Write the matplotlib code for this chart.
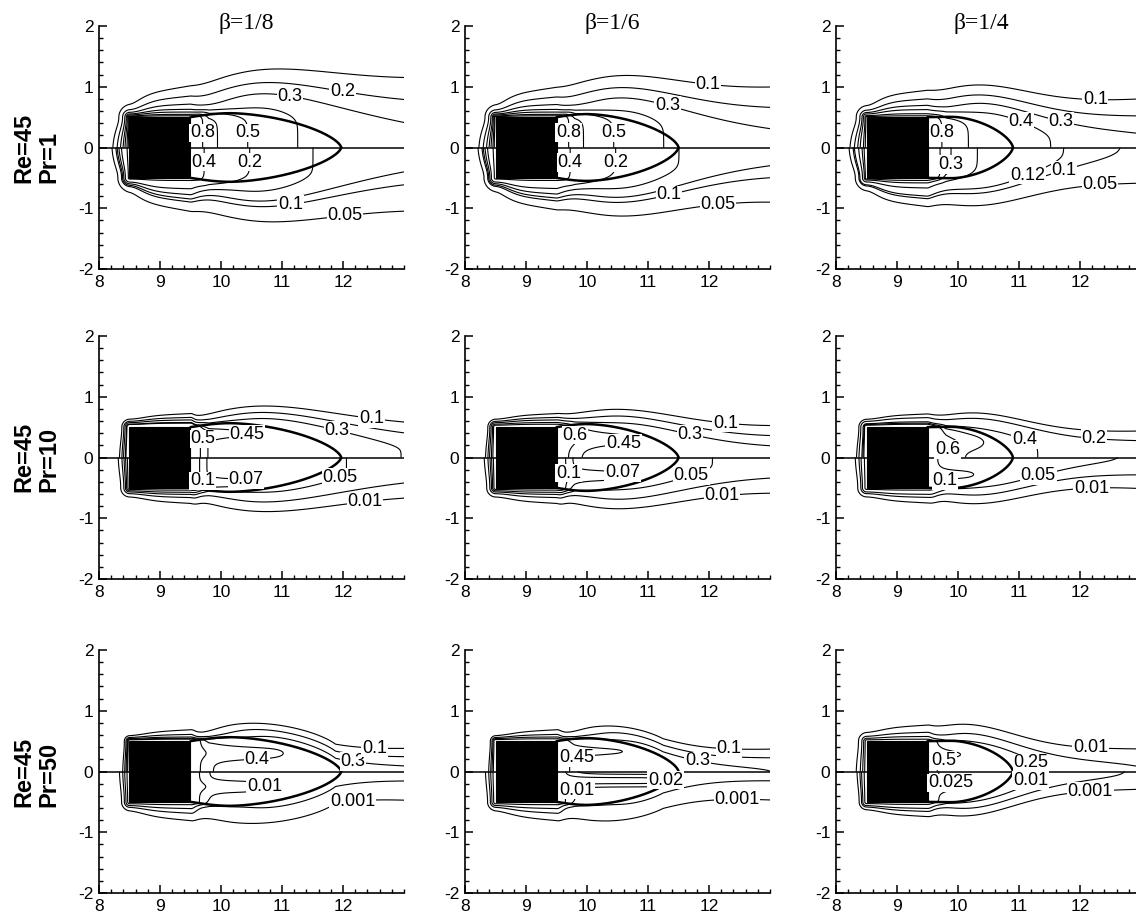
import numpy as np
import matplotlib
matplotlib.use("Agg")
import matplotlib.pyplot as plt
from matplotlib.patches import Rectangle
from matplotlib.ticker import MultipleLocator, FixedLocator

plt.rcParams['font.family'] = ['Liberation Sans', 'DejaVu Sans']
plt.rcParams['axes.unicode_minus'] = False

# ---------------- chart data ----------------
COL_TITLES = ["β=1/8", "β=1/6", "β=1/4"]
ROW_RE = ["Re=45", "Re=45", "Re=45"]
ROW_PR = ["Pr=1", "Pr=10", "Pr=50"]
X_TICKS = [8, 9, 10, 11, 12]
Y_TICKS = [-2, -1, 0, 1, 2]
X_LIM = [8, 13]
Y_LIM = [-2, 2]
SQUARE = [8.5, 9.5, -0.5, 0.5]          # x0, x1, y0, y1 of the cylinder

# recirculation bubble of each beta column (thick line)
BUBBLE_END = [11.97, 11.5, 10.9]        # reattachment point
BUBBLE_HMAX = [0.565, 0.55, 0.505]      # largest half height
BUBBLE_XMAX = [10.15, 10.0, 9.9]        # where it is reached
# length of the thermal envelope behind the bubble [row][col]
WAKE_ENV = [[1.3, 1.3, 1.5], [1.3, 1.3, 1.5], [0.75, 0.9, 1.3]]

# isotherm levels drawn in the upper / lower half  [row Pr][col beta]
LEVELS_UP = [
    [[0.1, 0.2, 0.3, 0.4, 0.5, 0.65, 0.8], [0.1, 0.2, 0.3, 0.4, 0.5, 0.65, 0.8], [0.1, 0.2, 0.3, 0.4, 0.6, 0.8]],
    [[0.1, 0.2, 0.3, 0.45, 0.5], [0.1, 0.2, 0.3, 0.45, 0.6], [0.1, 0.2, 0.4, 0.5, 0.6]],
    [[0.1, 0.2, 0.3, 0.4, 0.5], [0.1, 0.2, 0.3, 0.45], [0.01, 0.1, 0.25, 0.5]],
]
LEVELS_LO = [
    [[0.05, 0.1, 0.12, 0.15, 0.2, 0.4], [0.05, 0.1, 0.12, 0.15, 0.2, 0.4], [0.05, 0.1, 0.12, 0.2, 0.3, 0.4]],
    [[0.01, 0.03, 0.05, 0.07, 0.1], [0.01, 0.03, 0.05, 0.07, 0.1], [0.01, 0.03, 0.05, 0.1]],
    [[0.001, 0.005, 0.01, 0.02], [0.001, 0.005, 0.01, 0.02], [0.001, 0.005, 0.01, 0.025]],
]
# labelled isotherms: (value, x, y)
LABELS_UP = [
    [[(0.8, 9.71, 0.24), (0.5, 10.5, 0.24), (0.3, 11.13, 0.85), (0.2, 12.0, 0.97)],
     [(0.8, 9.78, 0.25), (0.5, 10.45, 0.25), (0.3, 11.33, 0.74), (0.1, 11.99, 1.12)],
     [(0.8, 9.79, 0.24), (0.4, 11.02, 0.41), (0.3, 11.7, 0.49), (0.1, 12.25, 0.85)]],
    [[(0.5, 9.74, 0.27), (0.45, 10.48, 0.25), (0.3, 11.9, 0.43), (0.1, 12.47, 0.63)],
     [(0.6, 9.73, 0.30), (0.45, 10.61, 0.19), (0.3, 11.68, 0.35), (0.1, 12.26, 0.49)],
     [(0.6, 9.73, 0.24), (0.4, 11.07, 0.24), (0.2, 12.22, 0.21)]],
    [[(0.4, 10.59, 0.2), (0.3, 12.17, 0.2), (0.1, 12.52, 0.44)],
     [(0.45, 9.82, 0.28), (0.3, 11.8, 0.14), (0.1, 12.32, 0.25)],
     [(0.5, 9.73, 0.25), (0.25, 11.32, 0.2), (0.01, 12.16, 0.25)]],
]
LABELS_LO = [
    [[(0.4, 9.71, -0.24), (0.2, 10.5, -0.24), (0.1, 11.13, -0.86), (0.05, 12.03, -1.1)],
     [(0.4, 9.73, -0.25), (0.2, 10.45, -0.25), (0.1, 11.33, -0.75), (0.05, 12.15, -0.94)],
     [(0.3, 9.81, -0.28), (0.12, 11.1, -0.36), (0.1, 11.75, -0.39), (0.05, 12.33, -0.66)]],
    [[(0.1, 9.74, -0.36), (0.07, 10.42, -0.31), (0.05, 11.98, -0.39), (0.01, 12.36, -0.72)],
     [(0.1, 9.73, -0.25), (0.07, 10.59, -0.2), (0.05, 11.71, -0.28), (0.01, 12.21, -0.64)],
     [(0.1, 9.76, -0.31), (0.05, 11.29, -0.2), (0.01, 12.19, -0.39)]],
    [[(0.01, 11.18, -0.24), (0.001, 12.17, -0.57)],
     [(0.01, 9.82, -0.3), (0.02, 11.77, -0.19), (0.001, 12.46, -0.43)],
     [(0.025, 9.87, -0.24), (0.01, 11.29, -0.21), (0.001, 12.16, -0.25)]],
]

# estimated temperature-field shape (per half panel) [row][col]
SURF_UP = [[1.0, 1.0, 1.0], [1.0, 1.0, 1.0], [1.0, 1.0, 1.0]]
SURF_LO = [[0.6, 0.6, 0.6], [0.15, 0.15, 0.15], [0.05, 0.05, 0.06]]
PLATEAU_UP = [[0.25, 0.25, 0.27], [0.44, 0.33, 0.5], [0.38, 0.38, 0.38]]
PLATEAU_LO = [[0.11, 0.11, 0.122], [0.06, 0.06, 0.065], [0.006, 0.006, 0.015]]
DROP_UP = [[0.5, 0.5, 0.58], [0.06, 0.15, 0.12], [0.08, 0.08, 0.08]]
DROP_LO = [[0.3, 0.3, 0.27], [0.14, 0.14, 0.15], [0.1, 0.1, 0.1]]
DROP_POW_UP = [[1.1, 1.1, 1.1], [2.0, 1.5, 1.5], [2.0, 2.0, 2.0]]
DROP_POW_LO = [[1.27, 1.27, 1.32], [3.0, 3.0, 3.0], [2.0, 2.0, 2.0]]
FADE_UP = [[1e3, 1e3, 30.0], [9.0, 1e3, 7.4], [20.0, 15.0, 3.03]]
FADE_LO = [[1e3, 1e3, 8.0], [14.0, 14.0, 12.0], [1e3, 1e3, 3.03]]
FADE_POW_UP = [[1.0, 1.0, 1.0], [1.0, 1.0, 1.0], [1.0, 1.0, 1.5]]
FADE_POW_LO = [[1.0, 1.0, 1.0], [1.0, 1.0, 1.0], [1.0, 1.0, 1.5]]
# boundary-layer / wake thickness per Pr row
WALL_W = [0.65, 0.75, 0.75]
WALL_D = [0.06, 0.065, 0.03]
WALL_FADE = [0.9, 0.9, 0.9]
WAKE_D0 = [0.24, 0.12, 0.076]
WAKE_GROW = [0.175, 0.065, 0.1]
WAKE_POW = [0.88, 1.0, 0.635]
WAKE_SCALE = [[1.0, 0.9, 0.7], [1.0, 1.0, 0.9], [1.0, 1.0, 0.6]]
CORNER_THIN = [0.55, 0.3, 0.3]
EDGE_SOFT = [0.05, 0.04, 0.03]
# warm tongue inside the bubble (amplitude, |y| centre, width, end x)
LOBE_UP = [[(0, 0, 1, 0), (0, 0, 1, 0), (0, 0, 1, 0)],
           [(0.06, 0.4, 0.1, 10.7), (0.12, 0.3, 0.15, 10.9), (0.08, 0.25, 0.12, 10.4)],
           [(0.07, 0.3, 0.12, 11.1), (0.1, 0.33, 0.12, 10.9), (0.15, 0.28, 0.12, 10.3)]]
LOBE_LO = [[(0, 0, 1, 0), (0, 0, 1, 0), (0, 0, 1, 0)],
           [(0.02, 0.42, 0.1, 10.7), (0.02, 0.3, 0.12, 10.8), (0.05, 0.28, 0.12, 10.4)],
           [(0.008, 0.25, 0.1, 10.7), (0.02, 0.15, 0.08, 11.4), (0.012, 0.25, 0.1, 10.3)]]

# ---------------- geometry helpers ----------------
xg = np.linspace(X_LIM[0], X_LIM[1], 501)
yg = np.linspace(0.0, 2.0, 241)
X, Y = np.meshgrid(xg, yg)


def bubble_h(x, c):
    lr, hm, xm = BUBBLE_END[c], BUBBLE_HMAX[c], BUBBLE_XMAX[c]
    x = np.asarray(x, float)
    h = np.zeros_like(x)
    m1 = (x >= SQUARE[1]) & (x < xm)
    h[m1] = 0.5 + (hm - 0.5) * np.sin(0.5 * np.pi * (x[m1] - SQUARE[1]) / (xm - SQUARE[1]))
    m2 = (x >= xm) & (x <= lr)
    s = (x[m2] - xm) / (lr - xm)
    h[m2] = hm * np.clip(1 - s ** 1.7, 0, None) ** 0.65
    return h


def bubble_curve(c):
    lr = BUBBLE_END[c]
    u = np.linspace(0, 1, 400)
    xs = SQUARE[1] + (lr - SQUARE[1]) * (1 - (1 - u) ** 2.5)
    return xs, bubble_h(xs, c)


def envelope(x, r, c):
    lr, hm, xm = BUBBLE_END[c], BUBBLE_HMAX[c], BUBBLE_XMAX[c]
    h = bubble_h(x, c)
    g = hm * np.exp(-((x - xm) / (WAKE_ENV[r][c] * (lr - xm))) ** 2)
    return np.where(x >= xm, np.maximum(h, g), h)


def core_distance(r, c):
    d_sq = np.hypot(np.maximum(SQUARE[0] - X, 0), np.maximum(Y - SQUARE[3], 0))
    raw = Y - envelope(X, r, c)
    s = np.maximum(EDGE_SOFT[r] * np.clip((X - SQUARE[1]) / 0.3, 0, 1) ** 2, 1e-6)
    d_env = s * np.logaddexp(0, raw / s)
    d = np.where(X <= SQUARE[1], d_sq, d_env)
    in_sq = (X >= SQUARE[0]) & (X <= SQUARE[1]) & (Y <= SQUARE[3])
    in_bub = 1 / (1 + np.exp((Y - bubble_h(X, c)) / 0.02)) * (X > SQUARE[1])
    return d, in_sq, in_bub


def field(r, c, d, in_sq, in_bub, up):
    C0 = (SURF_UP if up else SURF_LO)[r][c]
    cinf = (PLATEAU_UP if up else PLATEAU_LO)[r][c]
    a = (DROP_UP if up else DROP_LO)[r][c]
    p = (DROP_POW_UP if up else DROP_POW_LO)[r][c]
    lf = (FADE_UP if up else FADE_LO)[r][c]
    q = (FADE_POW_UP if up else FADE_POW_LO)[r][c]
    A, yc, sy, xe = (LOBE_UP if up else LOBE_LO)[r][c]
    xr = np.maximum(X - SQUARE[1], 0)
    C = cinf * np.exp(-(xr / lf) ** q) + (C0 - cinf) / (1 + (xr / a) ** p)
    xf = np.maximum(X - 8.2, 0)
    w = WALL_W[r] * np.exp(-(xr / WALL_FADE[r]) ** 2)
    corner = 1 - CORNER_THIN[r] * np.exp(-((X - SQUARE[0]) ** 2 + (Y - SQUARE[3]) ** 2) / 0.12)
    d1 = WALL_D[r] * corner
    d2 = (WAKE_D0[r] + WAKE_SCALE[r][c] * WAKE_GROW[r] * xf ** WAKE_POW[r]) * corner
    P = w * np.exp(-d / d1) + (1 - w) * np.exp(-(d / d2) ** 2)
    T = C * P
    if A > 0:
        T = T + (A * np.exp(-((Y - yc) / sy) ** 2) / (1 + np.exp((X - xe) / 0.12))
                 / (1 + np.exp(-(X - 9.6) / 0.03)) * in_bub)
    T[in_sq] = C0
    return T


def fmt(v):
    return f"{v:g}"


def place_labels(ax, cs, levels, labels):
    for val, lx, ly in labels:
        if val not in levels:
            continue
        i = list(cs.levels).index(val)
        segs = [s for s in cs.allsegs[i] if len(s)]
        if not segs:
            continue
        pts = np.vstack(segs)
        k = np.argmin((pts[:, 0] - lx) ** 2 + (pts[:, 1] - ly) ** 2)
        px, py = pts[k]
        ax.text(px, py, fmt(val), ha='center', va='center', fontsize=13,
                zorder=7, bbox=dict(boxstyle='square,pad=0.04', fc='white', ec='none'))


# ---------------- figure ----------------
W, H = 1136, 918
fig = plt.figure(figsize=(W / 100, H / 100), dpi=100)
LEFT_PX = [99, 465, 836]
TOP_PX = [26, 336, 650]
AX_W, AX_H = 305, 243
TITLE_X = [246, 612, 981]
ROWLAB_BOTTOM = [183, 492, 807]

for c in range(3):
    xs, hs = bubble_curve(c)
    for r in range(3):
        d, in_sq, in_bub = core_distance(r, c)
        ax = fig.add_axes([LEFT_PX[c] / W, 1 - (TOP_PX[r] + AX_H) / H, AX_W / W, AX_H / H])
        for up in (True, False):
            sign = 1 if up else -1
            levs = sorted((LEVELS_UP if up else LEVELS_LO)[r][c])
            T = field(r, c, d, in_sq, in_bub, up)
            cs = ax.contour(X, sign * Y, T, levels=levs, colors='k', linewidths=0.8, zorder=2)
            place_labels(ax, cs, levs, (LABELS_UP if up else LABELS_LO)[r][c])
            ax.plot(xs, sign * hs, color='k', lw=1.8, zorder=3, solid_capstyle='round')
        ax.plot(X_LIM, [0, 0], color='k', lw=1.1, zorder=3)
        ax.add_patch(Rectangle((SQUARE[0], SQUARE[2]), SQUARE[1] - SQUARE[0], SQUARE[3] - SQUARE[2],
                               fc='k', ec='k', lw=0.8, zorder=5))
        ax.set_xlim(X_LIM)
        ax.set_ylim(Y_LIM)
        for s in ('top', 'right'):
            ax.spines[s].set_visible(False)
        for s in ('left', 'bottom'):
            ax.spines[s].set_linewidth(1.2)
        ax.xaxis.set_major_locator(FixedLocator(X_TICKS))
        ax.yaxis.set_major_locator(FixedLocator(Y_TICKS))
        ax.xaxis.set_minor_locator(MultipleLocator(0.2))
        ax.yaxis.set_minor_locator(MultipleLocator(0.2))
        ax.set_xticklabels([str(t) for t in X_TICKS])
        ax.set_yticklabels([str(t) for t in Y_TICKS])
        ax.tick_params(which='major', direction='in', length=6, width=1.1, labelsize=12.5, pad=4)
        ax.tick_params(which='minor', direction='in', length=3, width=1.0)
        ax.set_facecolor('none')

for c in range(3):
    fig.text(TITLE_X[c] / W, 1 - 28.5 / H, COL_TITLES[c], ha='center', va='baseline',
             fontsize=17, family=['Liberation Serif', 'DejaVu Serif'])
for r in range(3):
    fig.text(53 / W, 1 - ROWLAB_BOTTOM[r] / H, ROW_RE[r] + "\n" + ROW_PR[r], rotation=90,
             rotation_mode='anchor', ha='left', va='baseline', multialignment='left',
             linespacing=1.13, fontsize=17, fontweight='bold')

fig.savefig("out.png", dpi=100)
